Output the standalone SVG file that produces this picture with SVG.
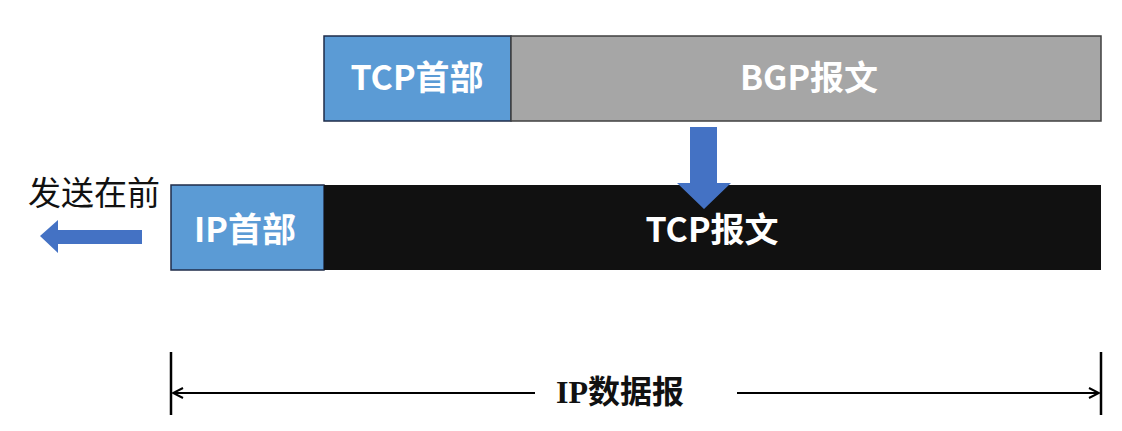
<svg xmlns="http://www.w3.org/2000/svg" width="1122" height="431" viewBox="0 0 1122 431">
<style>
.lbl{font-family:"Noto Sans CJK SC","Noto Sans",sans-serif;font-weight:bold;font-size:34px;fill:#fff;text-anchor:middle}
.blue{fill:#5b9bd5;stroke:#1f2d4a;stroke-width:1.5}
.arr{fill:#4472c4}
.dim{stroke:#000;stroke-width:2.5;fill:none}
</style>
<defs>
<marker id="open" viewBox="0 0 12 12" refX="11" refY="6" markerWidth="12" markerHeight="12" markerUnits="userSpaceOnUse" orient="auto-start-reverse">
<path d="M1,1 L11,6 L1,11" fill="none" stroke="#000" stroke-width="2"/>
</marker>
</defs>
<rect width="1122" height="431" fill="#fff"/>
<g id="tcp-header"><rect class="blue" x="324" y="36" width="187" height="85"/><text class="lbl" x="417" y="90">TCP首部</text></g>
<g id="bgp-msg"><rect x="511" y="36" width="590" height="85" fill="#a6a6a6" stroke="#404040" stroke-width="1.5"/><text class="lbl" x="809" y="90">BGP报文</text></g>
<g id="ip-header"><rect class="blue" x="171" y="185" width="153" height="85"/><text class="lbl" x="245" y="242">IP首部</text></g>
<g id="tcp-msg"><rect x="324" y="185" width="777" height="85" fill="#111"/><text class="lbl" x="712" y="242">TCP报文</text></g>
<g id="send-first"><text x="94" y="205" font-family="Noto Sans CJK SC,sans-serif" font-size="33" text-anchor="middle" fill="#111">发送在前</text>
<polygon class="arr" points="142,230 58,230 58,220 40,236 58,253 58,244 142,244"/></g>
<g id="connectors">
<polygon class="arr" points="690,127 717,127 717,183 731,183 704,209 677,183 690,183"/>
<line class="dim" x1="171" y1="352" x2="171" y2="415"/>
<line class="dim" x1="1101" y1="352" x2="1101" y2="415"/>
<line x1="535" y1="393" x2="173" y2="393" stroke="#000" stroke-width="2" marker-end="url(#open)"/>
<line x1="737" y1="393" x2="1099" y2="393" stroke="#000" stroke-width="2" marker-end="url(#open)"/>
</g>
<g id="ip-datagram"><text x="620" y="403" font-family="Liberation Serif,Noto Sans CJK SC,serif" font-size="32" font-weight="bold" text-anchor="middle" fill="#111">IP数据报</text></g>
</svg>
